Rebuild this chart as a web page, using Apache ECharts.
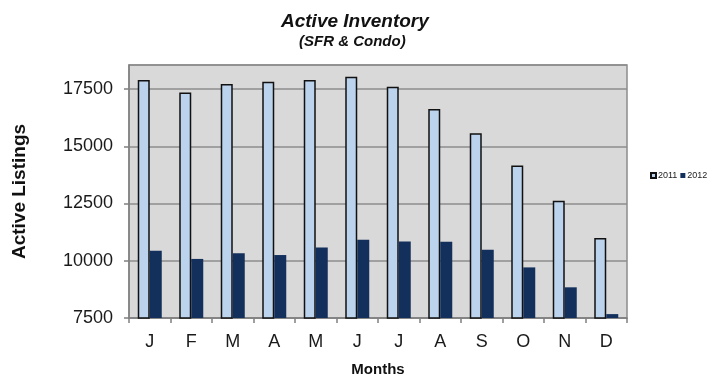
<!DOCTYPE html>
<html>
<head>
<meta charset="utf-8">
<script src="https://cdn.jsdelivr.net/npm/echarts@6/dist/echarts.min.js"></script>
<style>
  html, body { margin: 0; padding: 0; background: #ffffff; }
  #chart { width: 717px; height: 377px; }
</style>
</head>
<body>
<div id="chart"></div>
<script>
// Month initials along the category axis
const months = ['J', 'F', 'M', 'A', 'M', 'J', 'J', 'A', 'S', 'O', 'N', 'D'];
// Active listings (SFR & Condo) per month
const listings2011 = [17890, 17350, 17720, 17820, 17890, 18040, 17600, 16630, 15570, 14160, 12620, 10990];
const listings2012 = [10440, 10080, 10330, 10250, 10580, 10920, 10845, 10830, 10480, 9710, 8840, 7670];
const seriesNames = ['2011', '2012'];

const FONT = '"Liberation Sans", Arial, sans-serif';
const chart = echarts.init(document.getElementById('chart'), null, { renderer: 'canvas' });

chart.setOption({
  backgroundColor: '#ffffff',
  animation: false,
  textStyle: { fontFamily: FONT, color: '#1a1a1a' },
  title: [
    {
      text: 'Active Inventory',
      left: 276, top: 7,
      textStyle: { fontFamily: FONT, fontSize: 19, fontWeight: 'bold', fontStyle: 'italic', color: '#111' }
    },
    {
      text: '(SFR & Condo)',
      left: 294, top: 29,
      textStyle: { fontFamily: FONT, fontSize: 15, fontWeight: 'bold', fontStyle: 'italic', color: '#111' }
    }
  ],
  legend: {
    data: seriesNames,
    left: 645, top: 166,
    orient: 'horizontal',
    itemWidth: 5, itemHeight: 5, itemGap: 3,
    icon: 'rect',
    textStyle: { fontFamily: FONT, fontSize: 9, color: '#222', padding: [0, 0, 0, -3] }
  },
  grid: {
    left: 129, right: 90, top: 65, bottom: 59,
    outerBoundsMode: 'none',
    containLabel: false,
    show: true,
    backgroundColor: '#d9d9d9',
    borderColor: '#8c8c8c',
    borderWidth: 1.5
  },
  xAxis: {
    type: 'category',
    data: months,
    name: 'Months',
    nameLocation: 'middle',
    nameGap: 44,
    nameTextStyle: { fontFamily: FONT, fontSize: 15, fontWeight: 'bold', color: '#111' },
    axisLine: { lineStyle: { color: '#808080', width: 1.5 } },
    axisTick: { show: true, length: 5, inside: false, lineStyle: { color: '#808080', width: 1.5 } },
    axisLabel: { interval: 0, margin: 15, fontFamily: FONT, fontSize: 18, color: '#1a1a1a' },
    splitLine: { show: false }
  },
  yAxis: {
    type: 'value',
    min: 7500, max: 18550, interval: 2500,
    name: 'Active Listings',
    nameLocation: 'middle',
    nameRotate: 90,
    nameGap: 100,
    nameTextStyle: { fontFamily: FONT, fontSize: 19, fontWeight: 'bold', color: '#111' },
    axisLine: { show: true, lineStyle: { color: '#808080', width: 1.5 } },
    axisTick: { show: true, length: 5, lineStyle: { color: '#808080', width: 1.5 } },
    axisLabel: {
      margin: 16, showMaxLabel: false, fontFamily: FONT, fontSize: 18, color: '#1a1a1a',
      formatter: function (v) { return String(v); }
    },
    splitLine: { show: true, lineStyle: { color: '#8c8c8c', width: 1.5 } }
  },
  series: [
    {
      name: seriesNames[0],
      type: 'bar',
      data: listings2011,
      barWidth: 12,
      barGap: '0%',
      itemStyle: { color: '#bcd3ee', borderColor: '#111111', borderWidth: 1.5 }
    },
    {
      name: seriesNames[1],
      type: 'bar',
      data: listings2012,
      barWidth: 12,
      barGap: '0%',
      itemStyle: { color: '#132f5b' }
    }
  ]
});
</script>
</body>
</html>
